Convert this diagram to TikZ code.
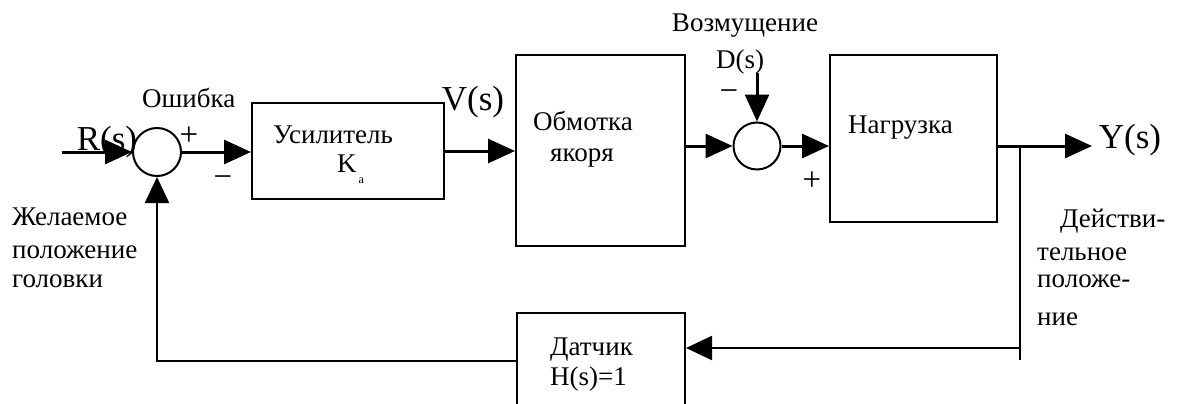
\documentclass[tikz,border=0pt]{standalone}
\usepackage{fontspec}
\setmainfont{Liberation Serif}
\usetikzlibrary{arrows.meta,calc,positioning}
\tikzset{
  blockbox/.style={
    rectangle, draw=black, fill=white, line width=2pt, inner sep=0pt
  },
  sumnode/.style={
    circle, draw=black, fill=white, line width=2pt,
    minimum size=48pt, inner sep=0pt
  },
  txt/.style={font=\fontsize{27}{31}\selectfont, inner sep=0pt, anchor=base west},
  ctxt/.style={font=\fontsize{27}{31}\selectfont, inner sep=0pt, anchor=base},
  sig/.style={font=\fontsize{35}{40}\selectfont, inner sep=0pt, anchor=base},
  sign/.style={font=\fontsize{33}{36}\selectfont, inner sep=0pt},
  arrow/.style={-{Triangle[length=27pt,width=24pt]}, line width=3pt, draw=black},
  fbline/.style={line width=2.4pt, draw=black},
  fbarrow/.style={fbline, -{Triangle[length=26pt,width=24pt]}}
}

\begin{document}
\begin{tikzpicture}[x=1pt,y=-1pt]
  \useasboundingbox (0,0) rectangle (1180,404);

  % blocks
  \node[blockbox, minimum width=192pt, minimum height=96pt] (amp) at (348,151) {};
  \node[blockbox, minimum width=169pt, minimum height=191pt] (coil) at (600.5,150.5) {};
  \node[blockbox, minimum width=167pt, minimum height=167pt] (load) at (913.5,138.5) {};
  \node[blockbox, minimum width=168pt, minimum height=130pt] (sensor) at (601,378) {};

  % summing points
  \node[sumnode] (err) at (157,152) {};
  \node[sumnode, minimum size=47pt] (dist) at (757,146) {};

  % block texts
  \node[txt] (ampname) at (273,143) {Усилитель};
  \node[txt] (ampgain) at (337,172)
    {K\hspace{2pt}\raisebox{-11pt}{\fontsize{12}{12}\selectfont a}};
  \node[txt] (coilname) at (533,130) {Обмотка};
  \node[txt] (coilname2) at (550,161) {якоря};
  \node[txt] (loadname) at (848,133) {Нагрузка};
  \node[txt] (sensorname) at (550,355) {Датчик};
  \node[txt] (sensorgain) at (550,385) {H(s)=1};

  % signals
  \node[sig] (rlabel) at (107,150) {R(s)};
  \node[sig] (vlabel) at (473,110) {V(s)};
  \node[sig] (ylabel) at (1130,148) {Y(s)};
  \node[ctxt] (dlabel) at (740,68) {D(s)};
  \node[ctxt] (dname) at (745,32) {Возмущение};
  \node[txt] (errname) at (142,107) {Ошибка};

  % signs
  \node[sign] (errplus) at (189,136) {+};
  \node[sign] (errminus) at (223,182) {−};
  \node[sign] (distminus) at (729,96) {−};
  \node[sign] (distplus) at (812,181) {+};

  % side notes
  \node[txt] (want1) at (12,225) {Желаемое};
  \node[txt] (want2) at (12,258) {положение};
  \node[txt] (want3) at (12,287) {головки};
  \node[txt] (act1) at (1060,227) {Действи-};
  \node[txt] (act2) at (1037,260) {тельное};
  \node[txt] (act3) at (1037,287) {положе-};
  \node[txt] (act4) at (1037,325) {ние};

  % connectors
  \coordinate (rstart) at (62,152);
  \coordinate (dtop) at (757,73);
  \coordinate (yout) at (1092,146);
  \coordinate (tap) at (1020,146);
  \coordinate (tapend) at (1020,360);
  \coordinate (fbtap) at (1020,348);
  \coordinate (fbcorner) at (157,361);

  \draw[arrow] (rstart) -- (err.west);
  \draw[arrow] (err.east) -- (err.east -| amp.west);
  \draw[arrow] (amp.east) -- (amp.east -| coil.west);
  \draw[arrow] (dist.west -| coil.east) -- (dist.west);
  \draw[arrow] (dtop) -- (dist.north);
  \draw[arrow] (dist.east) -- (dist.east -| load.west);
  \draw[arrow] (tap -| load.east) -- (yout);
  \draw[fbline] (tap) -- (tapend);
  \draw[fbarrow] (fbtap) -- (fbtap -| sensor.east);
  \draw[fbarrow] (fbcorner -| sensor.west) -- (fbcorner) -- (err.south);
\end{tikzpicture}
\end{document}
